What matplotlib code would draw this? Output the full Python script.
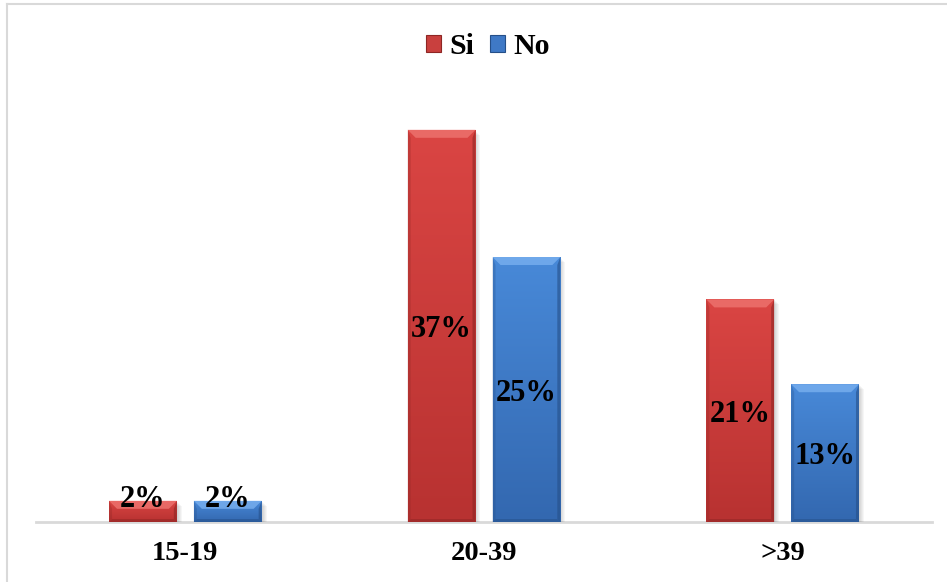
import numpy as np
import matplotlib
matplotlib.use("Agg")
import matplotlib.pyplot as plt
from matplotlib.patches import Rectangle, Polygon, Patch
from matplotlib.colors import LinearSegmentedColormap
from matplotlib.lines import Line2D
import matplotlib.transforms as mtransforms

# Data
categories = ["15-19", "20-39", ">39"]
si_values = [2, 37, 21]
no_values = [2, 25, 13]
series_names = ["Si", "No"]

# Styling
FONT = ["Liberation Serif", "DejaVu Serif"]
RED_TOP, RED_BOT = "#da4543", "#b83231"
BLUE_TOP, BLUE_BOT = "#4889d8", "#3368b0"
RED_LIGHT, RED_DARK = "#ee7470", "#8e2624"
BLUE_LIGHT, BLUE_DARK = "#79b0ef", "#254f88"

W, H = 947, 582
fig = plt.figure(figsize=(W / 100, H / 100), dpi=100)
fig.patch.set_facecolor("white")

ax = fig.add_axes([36 / W, (H - 522) / H, 896 / W, (522 - 98) / H])
ax.set_xlim(-0.5, len(categories) - 0.5)
ax.set_ylim(0, 40)
ax.set_facecolor("none")
for side in ["left", "right", "top"]:
    ax.spines[side].set_visible(False)
ax.spines["bottom"].set_color("#d9d9d9")
ax.spines["bottom"].set_linewidth(2)
ax.spines["bottom"].set_zorder(0)
ax.set_yticks([])
ax.set_xticks(range(len(categories)))
ax.set_xticklabels(categories, fontsize=20.5, fontweight="bold", family=FONT)
ax.tick_params(axis="x", length=0, pad=14)

bar_w = 0.227
offset = 0.142
ident = mtransforms.IdentityTransform()


def beveled_bar(xc, value, top_col, bot_col, light, dark):
    x0d, x1d = xc - bar_w / 2, xc + bar_w / 2
    # soft drop shadow
    (px0, py0), (px1, py1) = ax.transData.transform([(x0d, 0), (x1d, value)])
    for k in range(1, 6):
        ax.add_patch(Rectangle((px0 + k, py0), px1 - px0, py1 - py0 - k,
                               transform=ident, facecolor="#000000",
                               alpha=0.035, lw=0, zorder=1))
    # vertical gradient body
    cmap = LinearSegmentedColormap.from_list("g", [bot_col, top_col])
    clip = Rectangle((x0d, 0), bar_w, value, transform=ax.transData)
    im = ax.imshow(np.linspace(0, 1, 64).reshape(-1, 1), cmap=cmap,
                   extent=[x0d, x1d, 0, value], origin="lower",
                   aspect="auto", interpolation="bicubic", zorder=2)
    im.set_clip_path(clip)
    # bevel edges
    b = min(8, (py1 - py0) / 2)
    s = 3
    top = Polygon([(px0, py1), (px1, py1), (px1 - b, py1 - b), (px0 + b, py1 - b)],
                  closed=True, transform=ident, facecolor=light, alpha=0.8,
                  lw=0, zorder=3)
    right = Polygon([(px1, py1), (px1, py0), (px1 - s, py0 + s), (px1 - s, py1 - b)],
                    closed=True, transform=ident, facecolor=dark, alpha=0.6,
                    lw=0, zorder=3)
    left = Polygon([(px0, py1), (px0, py0), (px0 + s, py0 + s), (px0 + s, py1 - b)],
                   closed=True, transform=ident, facecolor=dark, alpha=0.3,
                   lw=0, zorder=3)
    bottom = Polygon([(px0, py0), (px1, py0), (px1 - s, py0 + s), (px0 + s, py0 + s)],
                     closed=True, transform=ident, facecolor=dark, alpha=0.5,
                     lw=0, zorder=3)
    for p in (top, right, left, bottom):
        ax.add_patch(p)
    # value label: centred in the bar, or resting on top of a short bar
    ly = (value / 2 if value >= 5 else value + 0.45) - 0.35
    ax.text(xc, ly, f"{value}%", ha="center", va="center", fontsize=22,
            fontweight="bold", family=FONT, color="black", zorder=5)


x = np.arange(len(categories))
for i in range(len(categories)):
    beveled_bar(x[i] - offset, si_values[i], RED_TOP, RED_BOT, RED_LIGHT, RED_DARK)
    beveled_bar(x[i] + offset, no_values[i], BLUE_TOP, BLUE_BOT, BLUE_LIGHT, BLUE_DARK)

ax.set_xlim(-0.5, len(categories) - 0.5)
ax.set_ylim(0, 40)

handles = [Patch(facecolor="#c9403e", edgecolor="#8e2624", lw=0.8),
           Patch(facecolor="#3f79c6", edgecolor="#254f88", lw=0.8)]
fig.legend(handles, series_names, loc="center", bbox_to_anchor=(488 / W, 1 - 47 / H),
           ncol=2, frameon=False, handlelength=0.5, handleheight=0.5,
           handletextpad=0.3, columnspacing=0.5,
           prop={"family": FONT, "weight": "bold", "size": 21.5})

# chart frame
fig.add_artist(Line2D([6.5 / W, 6.5 / W], [0, 1 - 4 / H], color="#d9d9d9", lw=1.5))
fig.add_artist(Line2D([6.5 / W, 1], [1 - 4 / H, 1 - 4 / H], color="#d9d9d9", lw=1.5))

fig.savefig("out.png", dpi=100, facecolor="white")
